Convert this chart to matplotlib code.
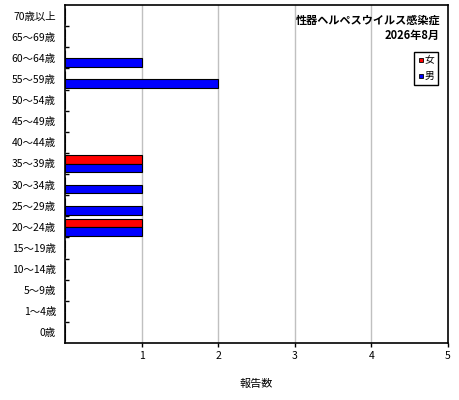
import matplotlib
matplotlib.use("Agg")
import matplotlib.pyplot as plt
from matplotlib.lines import Line2D
import numpy as np

plt.rcParams['font.family'] = ['Noto Sans CJK JP', 'DejaVu Sans']

age_groups = ["0歳", "1～4歳", "5～9歳", "10～14歳", "15～19歳", "20～24歳",
              "25～29歳", "30～34歳", "35～39歳", "40～44歳", "45～49歳",
              "50～54歳", "55～59歳", "60～64歳", "65～69歳", "70歳以上"]
female = [0, 0, 0, 0, 0, 1, 0, 0, 1, 0, 0, 0, 0, 0, 0, 0]
male = [0, 0, 0, 0, 0, 1, 1, 1, 1, 0, 0, 0, 2, 1, 0, 0]
x_ticks = [1, 2, 3, 4, 5]

title = "性器ヘルペスウイルス感染症"
period = "2026年8月"

fig = plt.figure(figsize=(4.6, 4.0), dpi=100)
ax = fig.add_axes([65 / 460, 57 / 400, 383 / 460, 338 / 400])

y = np.arange(len(age_groups))
h = 0.4
ax.barh(y + 0.18, female, height=h, color="#ff0000", edgecolor="black", linewidth=0.8, zorder=3)
ax.barh(y - 0.22, male, height=h, color="#0000ff", edgecolor="black", linewidth=0.8, zorder=3)

ax.set_xlim(0, 5)
ax.set_ylim(-0.5, len(age_groups) - 0.5)

# 縦グリッド
for xv in x_ticks[:-1]:
    ax.axvline(xv, color="#c0c0c0", linewidth=1, zorder=1)

ax.set_xticks(x_ticks)
ax.set_xticklabels([str(v) for v in x_ticks], fontsize=7.5)
ax.tick_params(axis="x", direction="out", length=3, width=1, pad=3)

ax.set_yticks(y)
ax.set_yticklabels(age_groups, fontsize=7.5)
ax.tick_params(axis="y", which="major", length=0, pad=6.5)
ax.set_yticks(np.arange(0.5, len(age_groups) - 0.5, 1), minor=True)
ax.tick_params(axis="y", which="minor", direction="in", length=3, width=1)

for spine in ax.spines.values():
    spine.set_edgecolor("black")
    spine.set_linewidth(1.2)

ax.set_xlabel("報告数", fontsize=8, labelpad=13)

ax.text(0.979, 0.956, title, transform=ax.transAxes, ha="right", va="center",
        fontsize=8, fontweight="bold")
ax.text(0.979, 0.911, period, transform=ax.transAxes, ha="right", va="center",
        fontsize=8, fontweight="bold")

handles = [
    Line2D([], [], marker="s", linestyle="", markersize=3.5, markerfacecolor="#ff0000",
           markeredgecolor="black", markeredgewidth=0.6, label="女"),
    Line2D([], [], marker="s", linestyle="", markersize=3.5, markerfacecolor="#0000ff",
           markeredgecolor="black", markeredgewidth=0.6, label="男"),
]
leg = ax.legend(handles=handles, loc="upper right", bbox_to_anchor=(0.974, 0.862),
                borderaxespad=0, fancybox=False, edgecolor="black", framealpha=1,
                fontsize=7, handlelength=0.6, handletextpad=0.1, borderpad=0.4,
                labelspacing=0.6)
leg.get_frame().set_linewidth(1)

fig.savefig("out.png", dpi=100)
